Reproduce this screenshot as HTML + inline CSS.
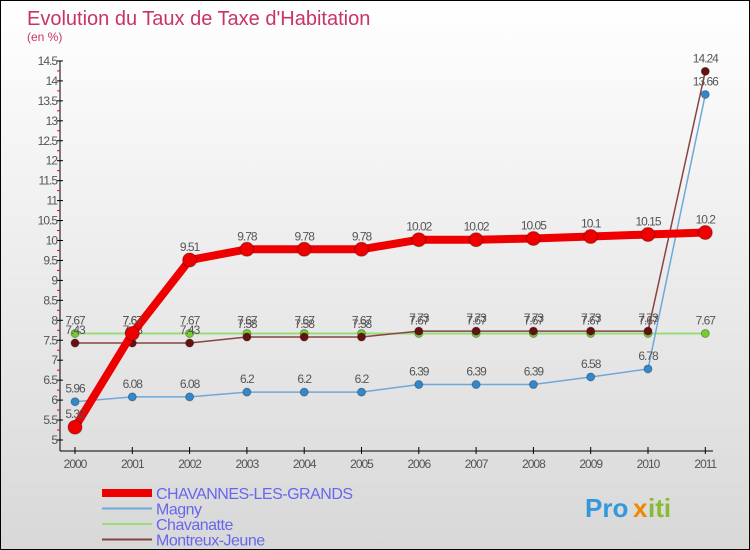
<!DOCTYPE html>
<html><head><meta charset="utf-8"><style>
body{margin:0}
#c{width:748px;height:548px;border:1px solid #000;background:linear-gradient(#fff,#d8d8d8);position:relative;font-family:"Liberation Sans","DejaVu Sans",sans-serif;overflow:hidden}
</style></head><body>
<div id="c">
<svg id="s" width="748" height="548"></svg>
</div>
<script>
const years=["2000","2001","2002","2003","2004","2005","2006","2007","2008","2009","2010","2011"];
const chavannes=[5.32,7.67,9.51,9.78,9.78,9.78,10.02,10.02,10.05,10.1,10.15,10.2];
const magny=[5.96,6.08,6.08,6.2,6.2,6.2,6.39,6.39,6.39,6.58,6.78,13.66];
const chavanatte=[7.67,7.67,7.67,7.67,7.67,7.67,7.67,7.67,7.67,7.67,7.67,7.67];
const montreux=[7.43,7.43,7.43,7.58,7.58,7.58,7.73,7.73,7.73,7.73,7.73,14.24];
const yTicks=[5,5.5,6,6.5,7,7.5,8,8.5,9,9.5,10,10.5,11,11.5,12,12.5,13,13.5,14,14.5];
const names=["CHAVANNES-LES-GRANDS","Magny","Chavanatte","Montreux-Jeune"];
const s=document.getElementById('s');const NS="http://www.w3.org/2000/svg";
function X(i){return 74+i*57.3;}
function Y(v){return 439-(v-5)*39.9;}
function el(t,a,txt){const e=document.createElementNS(NS,t);for(const k in a)e.setAttribute(k,a[k]);if(txt!==undefined)e.textContent=txt;s.appendChild(e);return e;}
let e=el('text',{x:26,y:24,fill:'#c8336a','font-size':20},'Evolution du Taux de Taxe d\'Habitation');

e=el('text',{x:26,y:40,fill:'#c8336a','font-size':12},'(en %)');

el('line',{x1:59,y1:Y(14.5),x2:59,y2:450,stroke:'#000'});
el('line',{x1:59,y1:450,x2:712,y2:450,stroke:'#000'});
yTicks.forEach(v=>{el('line',{x1:56,x2:62,y1:Y(v),y2:Y(v),stroke:'#000'});
 if(v<14.5)el('line',{x1:56,x2:59,y1:Y(v+0.25),y2:Y(v+0.25),stroke:'#e00'});
 const t=el('text',{x:56,y:Y(v)+4,'text-anchor':'end','font-size':12,fill:'#555','letter-spacing':'-1'},String(v));
 });
years.forEach((y,i)=>{el('line',{x1:X(i),x2:X(i),y1:446,y2:453,stroke:'#000'});
 const t=el('text',{x:X(i),y:467,'text-anchor':'middle','font-size':12,fill:'#555','letter-spacing':'-1'},y);
 });
function series(d,col,w,r,dot,name){
 const p=el('polyline',{points:d.map((v,i)=>X(i)+','+Y(v)).join(' '),fill:'none',stroke:col,'stroke-width':w,'stroke-linejoin':'round'});
 
 d.forEach((v,i)=>{const c=el('circle',{cx:X(i),cy:Y(v),r:r,fill:dot,stroke:'rgba(0,0,0,0.3)'});
  
  const t=el('text',{x:X(i),y:Y(v)-9,'text-anchor':'middle','font-size':12,fill:'#555','letter-spacing':'-1'},String(v));
  });
}
series(chavanatte,'#99dd77',2,4,'#77cc33','chavanatte');
series(montreux,'#884444',1.5,4,'#661111','montreux-jeune');
series(magny,'#6fa8d8',1.5,4,'#3388cc','magny');
series(chavannes,'#ee0000',8,7,'#ee0000','chavannes');
const cols=['#ee0000','#6fa8d8','#99dd77','#884444'],ws=[8,2,2,2];
names.forEach((n,i)=>{const y=492+i*15.5;
 const l=el('line',{x1:101,x2:151,y1:y,y2:y,stroke:cols[i],'stroke-width':ws[i]});
 
 const t=el('text',{x:155,y:y+6,'font-size':16,fill:'#6666ee','letter-spacing':'-0.5'},n);
 });
e=el('text',{x:584,y:516,'font-size':26,'font-weight':'bold',fill:'#3399dd'},'Pro');

e=el('text',{x:632,y:516,'font-size':26,'font-weight':'bold',fill:'#ee8800'},'x');

e=el('text',{x:647,y:516,'font-size':26,'font-weight':'bold',fill:'#88bb33'},'iti');

</script>
</body></html>
